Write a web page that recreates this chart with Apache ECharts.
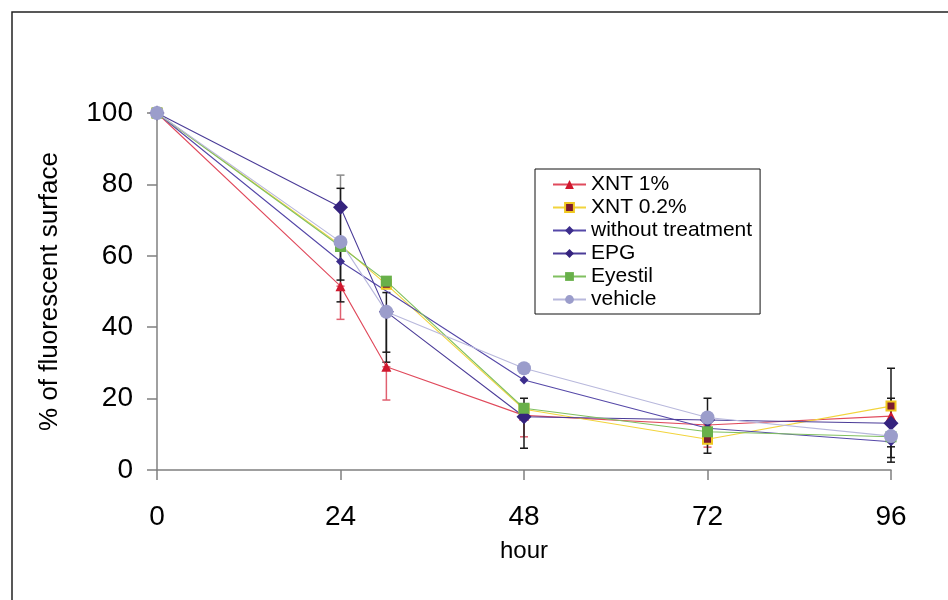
<!DOCTYPE html>
<html>
<head>
<meta charset="utf-8">
<script src="https://cdn.jsdelivr.net/npm/echarts@6/dist/echarts.min.js"></script>
<style>
html,body{margin:0;padding:0;background:#fff;}
#chart{width:948px;height:600px;}
</style>
</head>
<body>
<div id="chart"></div>
<script>
var FONT = "Liberation Sans, Arial, sans-serif";

// sampling times (hour)
var hours = [0, 24, 30, 48, 72, 96];

// % of fluorescent surface, one value per hour (null = not measured)
var xnt1 = [100, 51.5, 28.9, 15.3, 12.6, 15.1];
var xnt02 = [100, 63.0, 52.0, 17.0, 8.6, 17.9];
var withoutTreatment = [100, 58.4, null, 25.2, 11.7, 7.9];
var epg = [100, 73.6, 44.3, 14.9, 14.0, 13.1];
var eyestil = [100, 62.6, 52.9, 17.3, 10.7, 9.3];
var vehicle = [100, 63.9, 44.3, 28.5, 14.7, 9.5];

// error bars: [hour, low, high]
var errDark = [[24, 47.1, 78.9], [24, 53.2, 64], [30, 30.2, 49.7], [30, 33.0, 44.3], [48, 6.1, 20.1], [72, 4.7, 20.1], [96, 2.2, 28.5], [96, 3.5, 20.1], [96, 6.5, 13.1]];
var errGray = [[24, 64, 82.6]];
var errRed = [[24, 42.2, 51.5], [30, 19.6, 28.9], [48, 9.3, 15.3], [72, 6.4, 12.6]];

var xTicks = [0, 24, 48, 72, 96];
var yTicks = [0, 20, 40, 60, 80, 100];

function pairs(vals) {
	return hours.map(function(h, i) {
		return [h, vals[i]];
	});
}

function errSeries(data, color) {
	return {
		type: "custom",
		silent: true,
		z: 1,
		data: data,
		renderItem: function(params, api) {
			var x = api.value(0);
			var lo = api.coord([x, api.value(1)]);
			var hi = api.coord([x, api.value(2)]);
			var w = 4;
			var style = { stroke: color, lineWidth: 1.5 };
			return {
				type: "group",
				children: [
					{ type: "line", shape: { x1: lo[0], y1: lo[1], x2: hi[0], y2: hi[1] }, style: style },
					{ type: "line", shape: { x1: lo[0] - w, y1: lo[1], x2: lo[0] + w, y2: lo[1] }, style: style },
					{ type: "line", shape: { x1: hi[0] - w, y1: hi[1], x2: hi[0] + w, y2: hi[1] }, style: style }
				]
			};
		}
	};
}

function lineSeries(name, vals, symbol, size, lineColor, itemStyle) {
	return {
		name: name,
		type: "line",
		data: pairs(vals),
		connectNulls: true,
		symbol: symbol,
		symbolSize: size,
		showAllSymbol: true,
		z: 3,
		lineStyle: { color: lineColor, width: 1.1 },
		itemStyle: itemStyle,
		emphasis: { disabled: true }
	};
}

var chart = echarts.init(document.getElementById("chart"));
var option = {
	backgroundColor: "#fff",
	animation: false,
	textStyle: { fontFamily: FONT },
	graphic: [
		{
			type: "rect",
			shape: { x: 12, y: 12, width: 960, height: 620 },
			style: { fill: "none", stroke: "#222", lineWidth: 1.5 }
		}
	],
	grid: { left: 157, right: 57, top: 113, bottom: 130 },
	legend: {
		orient: "vertical",
		left: 535,
		top: 169,
		padding: [5, 8, 4, 17],
		itemGap: 2,
		itemWidth: 33,
		itemHeight: 11,
		borderColor: "#111",
		borderWidth: 1,
		textStyle: { fontFamily: FONT, fontSize: 21, color: "#000" },
		data: ["XNT 1%", "XNT 0.2%", "without treatment", "EPG", "Eyestil", "vehicle"]
	},
	xAxis: {
		type: "value",
		min: 0,
		max: 96,
		interval: 24,
		name: "hour",
		nameLocation: "middle",
		nameGap: 69,
		nameTextStyle: { fontFamily: FONT, fontSize: 24, color: "#000" },
		axisLine: { lineStyle: { color: "#808080", width: 1.5 } },
		axisTick: { show: true, length: 10, lineStyle: { color: "#808080", width: 1.5 } },
		axisLabel: {
			margin: 33,
			fontFamily: FONT,
			fontSize: 28,
			color: "#000",
			formatter: function(v) { return xTicks.indexOf(v) >= 0 ? String(v) : ""; }
		},
		splitLine: { show: false }
	},
	yAxis: {
		type: "value",
		min: 0,
		max: 100,
		interval: 20,
		name: "% of fluorescent surface",
		nameLocation: "middle",
		nameGap: 94,
		nameTextStyle: { fontFamily: FONT, fontSize: 26, color: "#000" },
		axisLine: { show: true, lineStyle: { color: "#808080", width: 1.5 } },
		axisTick: { show: true, length: 10, lineStyle: { color: "#808080", width: 1.5 } },
		axisLabel: {
			margin: 24,
			fontFamily: FONT,
			fontSize: 28,
			color: "#000",
			formatter: function(v) { return yTicks.indexOf(v) >= 0 ? String(v) : ""; }
		},
		splitLine: { show: false }
	},
	series: [
		errSeries(errGray, "#8a8a8a"),
		errSeries(errRed, "#e06070"),
		errSeries(errDark, "#1a1a1a"),
		lineSeries("XNT 1%", xnt1, "triangle", 10, "#e04a5c", { color: "#d0182e" }),
		lineSeries("XNT 0.2%", xnt02, "rect", 9, "#f2d43c", { color: "#7a1a30", borderColor: "#f0c820", borderWidth: 2 }),
		lineSeries("without treatment", withoutTreatment, "diamond", 9, "#5548a8", { color: "#3c2d8c" }),
		lineSeries("EPG", epg, "diamond", 15, "#4b3c98", { color: "#35237e" }),
		lineSeries("Eyestil", eyestil, "rect", 11, "#80c060", { color: "#68b04a" }),
		lineSeries("vehicle", vehicle, "circle", 14, "#b8b8dc", { color: "#9b9dcb" })
	]
};
chart.setOption(option);
</script>
</body>
</html>
